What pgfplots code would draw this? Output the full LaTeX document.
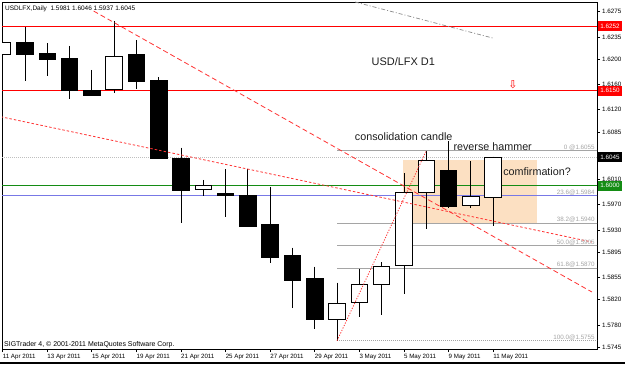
\documentclass[border=0pt]{standalone}
\usepackage{fontspec}
\setmainfont{Liberation Sans}
\newfontfamily\symfont{DejaVu Sans}
\usepackage{pgfplots}
\pgfplotsset{compat=1.18}
\definecolor{mtred}{RGB}{255,0,0}
\definecolor{mtgreen}{RGB}{20,140,20}
\definecolor{mtblue}{RGB}{120,120,230}
\definecolor{peach}{RGB}{252,224,194}
\definecolor{fibgray}{RGB}{165,165,165}
\definecolor{txt}{RGB}{30,30,30}

% candle macro: body fill, index, left edge, right edge, open, high, low, close
\newcommand{\candle}[8]{%
  \addplot[black, line width=0.9bp] coordinates {(#2,#6) (#2,#7)};
  \addplot[fill=#1, draw=black, line width=0.9bp] coordinates {(#3,#5) (#4,#5) (#4,#8) (#3,#8)} -- cycle;
}
\newcommand{\fiblab}[2]{%
  \node[anchor=south east, font=\fontsize{6.3}{7}\selectfont, text=fibgray, inner sep=0.6bp, xshift=-1.5bp] at ({rel axis cs:1,0} |- {axis cs:0,#1}) {#2};
}
\newcommand{\pricebox}[2]{%
  \node[fill=#1, text=white, font=\fontsize{6.3}{7}\selectfont, inner sep=0pt, minimum width=24bp, minimum height=10bp, anchor=west, xshift=0.8bp] at ({rel axis cs:1,0} |- {axis cs:0,#2}) {#2};
}

\begin{document}
\begin{tikzpicture}[x=1bp,y=1bp]
\useasboundingbox (0,0) rectangle (625,364);
\fill[white] (0,0) rectangle (625,364);
\fill[black] (0,0) rectangle (625,2.5);
\begin{axis}[
  at={(2bp,15bp)}, anchor=south west,
  width=595bp, height=347bp, scale only axis,
  xmin=-0.03, xmax=26.66, ymin=1.57419, ymax=1.62903,
  clip mode=individual,
  axis line style={black, line width=0.8bp},
  xtick={0,2,...,22},
  xticklabels={11 Apr 2011,13 Apr 2011,15 Apr 2011,19 Apr 2011,21 Apr 2011,25 Apr 2011,27 Apr 2011,29 Apr 2011,3 May 2011,5 May 2011,9 May 2011,11 May 2011},
  ytick={1.5745,1.5780,1.5820,1.5855,1.5895,1.5930,1.5970,1.6010,1.6085,1.6120,1.6160,1.6200,1.6235,1.6275},
  yticklabels={1.5745,1.5780,1.5820,1.5855,1.5895,1.5930,1.5970,1.6010,1.6085,1.6120,1.6160,1.6200,1.6235,1.6275},
  xtick pos=bottom, ytick pos=right, tick align=outside,
  major tick length=3bp,
  tick style={black, line width=0.7bp},
  x tick label style={font=\fontsize{6.2}{7}\selectfont, anchor=north west, inner xsep=0pt, inner ysep=1.5bp, text=black},
  y tick label style={font=\fontsize{6.3}{7}\selectfont, anchor=west, inner xsep=2bp, text=black},
]
% shaded zone
\addplot[fill=peach, draw=none] coordinates {(17.97,1.5940) (23.97,1.5940) (23.97,1.6040) (17.97,1.6040)} -- cycle;
% horizontal levels
\addplot[mtred, line width=1.4bp] coordinates {(-1,1.6252) (28,1.6252)};
\addplot[mtred, line width=1.4bp] coordinates {(-1,1.6150) (28,1.6150)};
\addplot[mtgreen, line width=1.4bp] coordinates {(-1,1.6000) (28,1.6000)};
\addplot[mtblue, line width=1.1bp] coordinates {(-1,1.5984) (28,1.5984)};
\addplot[black!25, line width=0.8bp, dash pattern=on 1bp off 1bp] coordinates {(-1,1.6045) (28,1.6045)};
% fibonacci levels
\addplot[fibgray, line width=0.8bp] coordinates {(15,1.6055) (28,1.6055)};
\addplot[fibgray, line width=0.8bp] coordinates {(15,1.5940) (28,1.5940)};
\addplot[fibgray, line width=0.8bp] coordinates {(15,1.5905) (28,1.5905)};
\addplot[fibgray, line width=0.8bp] coordinates {(15,1.5870) (28,1.5870)};
\addplot[fibgray, line width=0.8bp, dash pattern=on 1bp off 1bp] coordinates {(15,1.5755) (28,1.5755)};
% candles: fill, idx, left, right, open, high, low, close
\candle{white}{0}{-0.37}{0.37}{1.6208}{1.6235}{1.6199}{1.6227}
\candle{black}{1}{0.63}{1.37}{1.6227}{1.6250}{1.6166}{1.6208}
\candle{black}{2}{1.63}{2.37}{1.6209}{1.6225}{1.6173}{1.6199}
\candle{black}{3}{2.63}{3.37}{1.6201}{1.6221}{1.6137}{1.6151}
\candle{black}{4}{3.63}{4.37}{1.6151}{1.6183}{1.6141}{1.6143}
\candle{white}{5}{4.63}{5.37}{1.6152}{1.6260}{1.6147}{1.6205}
\candle{black}{6}{5.63}{6.37}{1.6208}{1.6230}{1.6153}{1.6165}
\candle{black}{7}{6.63}{7.37}{1.6167}{1.6171}{1.6042}{1.6043}
\candle{black}{8}{7.63}{8.37}{1.6043}{1.6060}{1.5941}{1.5992}
\candle{white}{9}{8.63}{9.37}{1.5994}{1.6009}{1.5983}{1.6001}
\candle{black}{10}{9.63}{10.37}{1.5987}{1.6026}{1.5951}{1.5985}
\candle{black}{11}{10.63}{11.37}{1.5985}{1.6027}{1.5934}{1.5935}
\candle{black}{12}{11.63}{12.37}{1.5939}{1.5998}{1.5878}{1.5887}
\candle{black}{13}{12.63}{13.37}{1.5889}{1.5902}{1.5806}{1.5851}
\candle{black}{14}{13.63}{14.37}{1.5853}{1.5872}{1.5773}{1.5789}
\candle{white}{15}{14.63}{15.37}{1.5788}{1.5847}{1.5755}{1.5814}
\candle{white}{16}{15.63}{16.37}{1.5816}{1.5869}{1.5793}{1.5844}
\candle{white}{17}{16.63}{17.37}{1.5844}{1.5879}{1.5795}{1.5873}
\candle{white}{18}{17.63}{18.37}{1.5874}{1.6020}{1.5829}{1.5990}
\candle{white}{19}{18.63}{19.37}{1.5990}{1.6055}{1.5931}{1.6040}
\candle{black}{20}{19.63}{20.37}{1.6024}{1.6024}{1.5965}{1.5967}
\candle{white}{21}{20.63}{21.37}{1.5969}{1.6039}{1.5965}{1.5983}
\candle{white}{22}{21.63}{22.37}{1.5981}{1.6046}{1.5937}{1.6045}
% trend lines
\addplot[mtred!80, line width=0.8bp, dash pattern=on 2.5bp off 2bp] coordinates {(-0.09,1.6109) (26.43,1.5911)};
\addplot[mtred!80, line width=0.8bp, dash pattern=on 5bp off 3bp] coordinates {(4.08,1.6276) (26.43,1.5832)};
\addplot[mtred!80, line width=0.8bp, dash pattern=on 1.2bp off 1.5bp] coordinates {(15,1.5755) (19,1.6055)};
\addplot[black!45, line width=0.7bp, dash pattern=on 4bp off 2bp on 1bp off 2bp] coordinates {(15.81,1.62903) (22.02,1.6233)};
% pointer line
\addplot[black, line width=0.9bp] coordinates {(20,1.60706) (20,1.6024)};
% texts
\node[font=\fontsize{11}{13}\selectfont, text=txt] at (axis cs:17.97,1.61955) {USD/LFX D1};
\node[font=\fontsize{10.8}{13}\selectfont, text=txt] at (axis cs:17.99,1.6077) {consolidation candle};
\node[font=\fontsize{10.8}{13}\selectfont, text=txt] at (axis cs:21.98,1.60612) {reverse hammer};
\node[font=\fontsize{10.8}{13}\selectfont, text=txt] at (axis cs:23.97,1.60216) {comfirmation?};
\node[font=\symfont\fontsize{11}{12}\selectfont, text=mtred, inner sep=0pt] at (axis cs:22.89,1.61591) {⇩};
\node[anchor=north west, font=\fontsize{6.5}{7}\selectfont, inner sep=0pt, text=black] at ([xshift=3bp,yshift=-3.5bp]rel axis cs:0,1) {USDLFX,Daily\ \ 1.5981 1.6046 1.5937 1.6045};
\node[anchor=south west, font=\fontsize{7}{8}\selectfont, inner sep=0pt, text=black] at ([xshift=2bp,yshift=1bp]rel axis cs:0,0) {SIGTrader 4, © 2001-2011 MetaQuotes Software Corp.};
% fibonacci labels
\fiblab{1.6055}{0 @1.6055}
\fiblab{1.5984}{23.6@1.5984}
\fiblab{1.5940}{38.2@1.5940}
\fiblab{1.5905}{50.0@1.5905}
\fiblab{1.5870}{61.8@1.5870}
\fiblab{1.5755}{100.0@1.5755}
% price boxes on the right
\pricebox{mtred}{1.6252}
\pricebox{mtred}{1.6150}
\pricebox{black}{1.6045}
\pricebox{mtgreen}{1.6000}
\end{axis}
\end{tikzpicture}
\end{document}
